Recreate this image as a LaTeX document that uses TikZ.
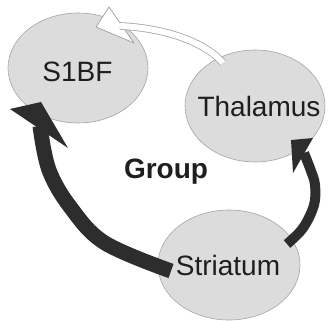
\documentclass[tikz,border=0pt]{standalone}
\usepackage{fontspec}
\setmainfont{Liberation Sans}
\usetikzlibrary{shapes.geometric}
\definecolor{ellfill}{RGB}{220,220,220}
\definecolor{elldraw}{RGB}{165,165,165}
\definecolor{arrdark}{RGB}{45,45,45}
\definecolor{arrline}{RGB}{165,165,165}
\definecolor{txt}{RGB}{30,30,30}
\begin{document}
\begin{tikzpicture}[x=1pt,y=-1pt,
  region/.style={ellipse, fill=ellfill, draw=elldraw, line width=0.6pt, inner sep=0pt},
  lbl/.style={font=\fontsize{28}{30}\selectfont, text=txt, inner sep=0pt, anchor=base},
  shaftdark/.style={draw=arrdark, line width=15pt},
  headdark/.style={fill=arrdark},
  shaftlight/.style={draw=arrline, line width=0.8pt, double=white, double distance=6pt},
  headlight/.style={fill=white, draw=arrline, line width=0.8pt, line join=round}]
\useasboundingbox (0,0) rectangle (328,320);
% regions
\node[region, minimum width=140pt, minimum height=110pt] (s1bf) at (78,68) {};
\node[region, minimum width=140pt, minimum height=112pt] (thal) at (255,106) {};
\node[region, minimum width=142pt, minimum height=110pt] (stri) at (229,265) {};
% labels
\node[lbl] (s1bfl) at (77.5,82) {S1BF};
\node[lbl] (thall) at (259,117) {Thalamus};
\node[lbl] (stril) at (228,275) {Striatum};
\node[lbl, font=\bfseries\fontsize{28}{30}\selectfont] (grp) at (166,178) {Group};
% left arrow: Striatum -> S1BF
\coordinate (l0) at (171,271);
\coordinate (l1) at (105,243);
\coordinate (l2) at (71,208);
\coordinate (l3) at (49,170);
\coordinate (l4) at (40,126);
\draw[shaftdark] plot[smooth, tension=0.6] coordinates {(l0) (l1) (l2) (l3) (l4)};
\fill[headdark] (10,109) -- (41,102) -- (68,148) -- cycle;
% right arrow: Striatum -> Thalamus
\coordinate (r0) at (287,244);
\coordinate (r1) at (303,228);
\coordinate (r2) at (314,205);
\coordinate (r3) at (315,185);
\coordinate (r4) at (311,171);
\coordinate (r5) at (304,153);
\draw[shaftdark, line width=10pt] plot[smooth, tension=0.6] coordinates {(r0) (r1) (r2) (r3) (r4) (r5)};
\fill[headdark] (291,140) -- (313,138) -- (293,173) -- cycle;
% white arrow: Thalamus -> S1BF
\coordinate (w0) at (223,63);
\coordinate (w1) at (120,26);
\filldraw[headlight] (109,7) -- (96,27) -- (134,43) -- cycle;
\draw[shaftlight] (w0) .. controls (205,42) and (165,28) .. (w1);
\end{tikzpicture}
\end{document}
